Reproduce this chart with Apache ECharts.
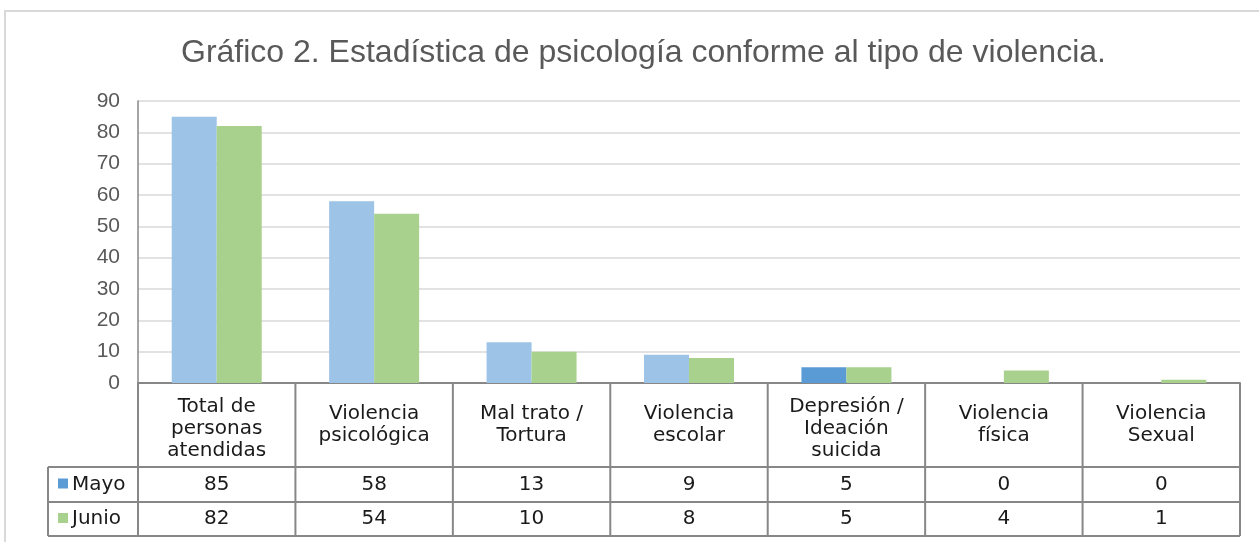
<!DOCTYPE html>
<html>
<head>
<meta charset="utf-8">
<script src="https://cdn.jsdelivr.net/npm/echarts@6/dist/echarts.min.js"></script>
<style>
  html, body { margin: 0; padding: 0; background: #fff; }
  #main { width: 1259px; height: 542px; }
</style>
</head>
<body>
<div id="main"></div>
<script>
const titulo = 'Gráfico 2. Estadística de psicología conforme al tipo de violencia.';
const categorias = [
    'Total de\npersonas\natendidas',
    'Violencia\npsicológica',
    'Mal trato /\nTortura',
    'Violencia\nescolar',
    'Depresión /\nIdeación\nsuicida',
    'Violencia\nfísica',
    'Violencia\nSexual'
];
const mayo = [85, 58, 13, 9, 5, 0, 0];
const junio = [82, 54, 10, 8, 5, 4, 1];
const series_nombres = ['Mayo', 'Junio'];
const yTicks = { min: 0, max: 90, interval: 10 };

// colores
const azulClaro = '#9DC3E6';
const azul = '#5B9BD5';
const verde = '#A9D18E';
const gris = '#878787';
const fuenteTabla = 'DejaVu Sans';

const chart = echarts.init(document.getElementById('main'));

chart.setOption({
    backgroundColor: '#fff',
    animation: false,
    title: {
        text: titulo,
        left: 176,
        top: 32,
        textStyle: {
            fontFamily: 'Liberation Sans',
            fontSize: 32,
            fontWeight: 'normal',
            color: '#595959'
        }
    },
    grid: { left: 138, right: 19, top: 101, bottom: 159 },
    xAxis: {
        type: 'category',
        data: categorias,
        axisLine: { lineStyle: { color: gris, width: 2 } },
        axisTick: { show: false },
        axisLabel: { show: false }
    },
    yAxis: {
        type: 'value',
        min: yTicks.min,
        max: yTicks.max,
        interval: yTicks.interval,
        axisLine: { show: true, lineStyle: { color: gris, width: 1.5 } },
        axisTick: { show: false },
        axisLabel: {
            margin: 18,
            fontFamily: 'Liberation Sans',
            fontSize: 21,
            color: '#595959'
        },
        splitLine: { lineStyle: { color: '#D9D9D9', width: 1.5 } }
    },
    series: [
        {
            name: series_nombres[0],
            type: 'bar',
            data: mayo,
            barWidth: 45,
            barGap: '0%',
            itemStyle: {
                // en el original solo la barra de Depresión usa el azul fuerte
                color: p => (p.dataIndex === 4 ? azul : azulClaro)
            }
        },
        {
            name: series_nombres[1],
            type: 'bar',
            data: junio,
            barWidth: 45,
            itemStyle: { color: verde }
        }
    ]
});

// tabla de datos debajo del eje
function tabla() {
    const y0 = chart.convertToPixel({ yAxisIndex: 0 }, 0);
    const c0 = chart.convertToPixel({ xAxisIndex: 0 }, 0);
    const band = chart.convertToPixel({ xAxisIndex: 0 }, 1) - c0;
    const xIni = c0 - band / 2;
    const xFin = xIni + band * categorias.length;
    const xLeyenda = 48;
    const yCab = y0 + 84;
    const yFilas = [yCab, yCab + 35, yCab + 69];
    const elems = [];
    const linea = (x1, y1, x2, y2) => elems.push({
        type: 'line',
        shape: { x1, y1, x2, y2 },
        style: { stroke: gris, lineWidth: 2 }
    });
    const texto = (t, x, y, extra) => elems.push({
        type: 'text',
        style: Object.assign({
            text: t, x, y,
            align: 'center', verticalAlign: 'middle',
            fontFamily: fuenteTabla, fontSize: 20, lineHeight: 22,
            fill: '#1a1a1a'
        }, extra || {})
    });

    // bordes
    for (let i = 0; i <= categorias.length; i++) {
        linea(xIni + band * i, y0, xIni + band * i, yFilas[2]);
    }
    yFilas.forEach(y => linea(xLeyenda, y, xFin, y));
    linea(xLeyenda, yFilas[0], xLeyenda, yFilas[2]);

    categorias.forEach((c, i) => {
        const cx = c0 + band * i;
        // las de tres líneas quedan algo más abajo en el original
        const dy = c.split('\n').length > 2 ? 4 : 0;
        texto(c, cx, (y0 + yCab) / 2 + dy);
        texto(String(mayo[i]), cx, (yFilas[0] + yFilas[1]) / 2);
        texto(String(junio[i]), cx, (yFilas[1] + yFilas[2]) / 2);
    });

    [mayo, junio].forEach((s, k) => {
        const cy = (yFilas[k] + yFilas[k + 1]) / 2;
        elems.push({
            type: 'rect',
            shape: { x: xLeyenda + 10, y: cy - 6, width: 10, height: 10 },
            style: { fill: k === 0 ? azul : verde }
        });
        texto(series_nombres[k], xLeyenda + 24, cy, { align: 'left' });
    });

    // marco del gráfico
    elems.push({
        type: 'rect',
        shape: { x: 5, y: 11, width: 1262, height: 545 },
        style: { fill: 'none', stroke: '#D9D9D9', lineWidth: 2 }
    });

    chart.setOption({ graphic: elems });
}
tabla();

window.addEventListener('resize', () => {
    chart.resize();
    tabla();
});
</script>
</body>
</html>
